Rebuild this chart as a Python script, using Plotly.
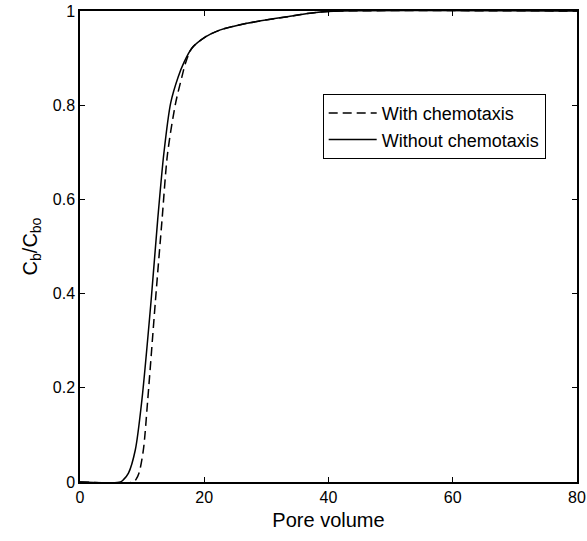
import plotly.graph_objects as go

# Without chemotaxis (solid)
x_without = [0, 6.5, 7.0, 7.8, 8.9, 9.96, 11.45, 12.5, 13.5, 14.6, 15.8, 16.7, 18.0, 20.2, 22.6, 26.9, 33.4, 38.0, 42.0, 80]
y_without = [0, 0, 0.005, 0.019, 0.068, 0.174, 0.386, 0.556, 0.698, 0.805, 0.86, 0.89, 0.921, 0.945, 0.96, 0.974, 0.988, 0.997, 1.0, 1.0]

# With chemotaxis (dashed)
x_with = [0, 8.6, 9.0, 9.5, 10.2, 10.9, 12.15, 13.2, 14.1, 15.4, 16.4, 17.0, 18.0, 20.2, 22.6, 26.9, 33.4, 38.0, 42.0, 80]
y_with = [0, 0, 0.005, 0.019, 0.068, 0.174, 0.386, 0.556, 0.698, 0.805, 0.86, 0.89, 0.921, 0.945, 0.96, 0.974, 0.988, 0.997, 1.0, 1.0]

x_ticks = [0, 20, 40, 60, 80]
y_ticks = [0, 0.2, 0.4, 0.6, 0.8, 1]
y_tick_labels = ["0", "0.2", "0.4", "0.6", "0.8", "1"]

FONT = "Liberation Sans, Arial, Helvetica, sans-serif"

fig = go.Figure()
fig.add_trace(go.Scatter(
    x=x_with, y=y_with, mode="lines", name="With chemotaxis",
    line=dict(color="black", width=1.5, dash="9px,5px", shape="spline", smoothing=0.8),
))
fig.add_trace(go.Scatter(
    x=x_without, y=y_without, mode="lines", name="Without chemotaxis",
    line=dict(color="black", width=1.5, shape="spline", smoothing=0.8),
))

axis_common = dict(
    showgrid=False, zeroline=False, showline=True, linecolor="black", linewidth=1.5,
    mirror="ticks", ticks="inside", ticklen=5, tickwidth=1, tickcolor="black",
    tickfont=dict(family=FONT, size=16, color="black"),
    automargin=False,
)

fig.update_layout(
    width=587, height=541,
    margin=dict(l=80, r=10, t=11, b=59),
    paper_bgcolor="white", plot_bgcolor="white",
    font=dict(family=FONT, color="black"),
    showlegend=True,
    legend=dict(
        x=0.937, y=0.824, xanchor="right", yanchor="top",
        bgcolor="white", bordercolor="black", borderwidth=1,
        font=dict(family=FONT, size=18, color="black"),
        tracegroupgap=0, itemwidth=48,
    ),
    xaxis=dict(
        range=[0, 80], tickvals=x_ticks,
        title=dict(text="Pore volume", font=dict(family=FONT, size=20), standoff=8),
        **axis_common,
    ),
    yaxis=dict(
        range=[0, 1], tickvals=y_ticks, ticktext=y_tick_labels,
        title=dict(text="C<sub>b</sub>/C<sub>bo</sub>", font=dict(family=FONT, size=20), standoff=10),
        **axis_common,
    ),
)

fig.write_html(
    "out.html",
    config={"displayModeBar": False},
    post_script="document.body.style.margin='0';document.body.style.overflow='hidden';",
)
